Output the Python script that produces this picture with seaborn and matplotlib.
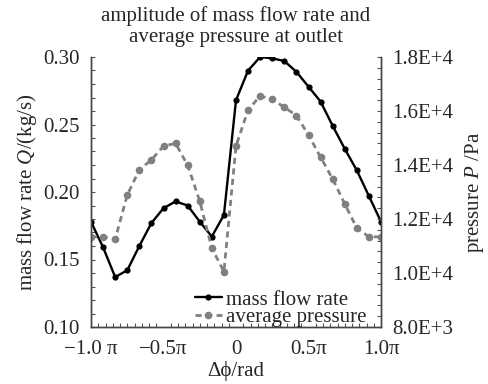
import numpy as np
import pandas as pd
import matplotlib
matplotlib.use("Agg")
import matplotlib.pyplot as plt
from matplotlib.ticker import MultipleLocator
import seaborn as sns

# ---- data (x in units of pi) ----
phase_pi = [-1.0, -11/12, -10/12, -9/12, -8/12, -7/12, -6/12, -5/12, -4/12, -3/12, -2/12, -1/12,
            0.0, 1/12, 2/12, 3/12, 4/12, 5/12, 6/12, 7/12, 8/12, 9/12, 10/12, 11/12, 1.0]
mass_flow = [0.178, 0.159, 0.137, 0.142, 0.160, 0.177, 0.188, 0.193, 0.190, 0.178, 0.167, 0.183,
             0.268, 0.290, 0.300, 0.299, 0.297, 0.289, 0.278, 0.267, 0.249, 0.232, 0.216, 0.197, 0.178]
pressure = [11340, 11340, 11250, 12890, 13820, 14190, 14700, 14800, 13990, 12660, 10920, 10050,
            14700, 16040, 16560, 16430, 16140, 15830, 15110, 14290, 13480, 12560, 11660, 11340, 11340]
x_ticks = [-1.0, -0.5, 0.0, 0.5, 1.0]
x_ticklabels = ["\u22121.0 \u03c0", "\u22120.5\u03c0", "0", "0.5\u03c0", "1.0\u03c0"]
q_ticks = [0.10, 0.15, 0.20, 0.25, 0.30]
p_ticks = [8000, 10000, 12000, 14000, 16000, 18000]
p_ticklabels = ["8.0E+3", "1.0E+4", "1.2E+4", "1.4E+4", "1.6E+4", "1.8E+4"]

df = pd.DataFrame({"phase": phase_pi, "Q": mass_flow, "P": pressure})

sns.set_style("ticks")
plt.rcParams["font.family"] = ["Liberation Serif", "DejaVu Serif"]
plt.rcParams["mathtext.fontset"] = "custom"
plt.rcParams["mathtext.rm"] = "Liberation Serif"
plt.rcParams["mathtext.it"] = "Liberation Serif:italic"
FS = 15

fig = plt.figure(figsize=(4.89, 3.84), dpi=100)
ax = fig.add_axes([91/489, 1-327/384, 290/489, 270/384])
ax2 = ax.twinx()

sns.lineplot(data=df, x="phase", y="Q", ax=ax, color="black", linewidth=1.7,
             marker="o", markersize=4.5, markeredgewidth=0, label="mass flow rate", legend=False)
sns.lineplot(data=df, x="phase", y="P", ax=ax2, color="#808080", linewidth=2.0,
             linestyle=(0, (2.2, 1.6)), marker="o", markersize=5.5, markeredgewidth=0,
             label="average pressure", legend=False)

ax.set_xlim(-1.0, 1.0)
ax.set_ylim(0.10, 0.30)
ax2.set_ylim(8000, 18000)

ax.set_xticks(x_ticks)
ax.set_xticklabels(x_ticklabels, fontsize=FS)
ax.xaxis.set_minor_locator(MultipleLocator(0.05))
ax.set_yticks(q_ticks)
ax.set_yticklabels([f"{v:.2f}" for v in q_ticks], fontsize=FS)
ax.yaxis.set_minor_locator(MultipleLocator(0.01))
ax2.set_yticks(p_ticks)
ax2.set_yticklabels(p_ticklabels, fontsize=FS)
ax2.yaxis.set_minor_locator(MultipleLocator(400))

for a in (ax, ax2):
    a.tick_params(which="both", direction="in", length=3, width=0.8, color="#555555", pad=8)
    a.spines["top"].set_visible(False)
    for s in a.spines.values():
        s.set_color("#444444")
        s.set_linewidth(1.0)
ax.tick_params(axis="x", which="major", length=0, pad=9)

ax.set_xlabel("\u0394\u03d5/rad", fontsize=FS, labelpad=2)
ax.set_ylabel("mass flow rate $\\it{Q}$/(kg/s)", fontsize=FS, labelpad=3)
ax2.set_ylabel("pressure $\\it{P}$ /Pa", fontsize=FS, labelpad=7)

fig.suptitle("amplitude of mass flow rate and\naverage pressure at outlet", fontsize=FS,
             x=236/489, y=0.985, linespacing=1.2)

h1, l1 = ax.get_legend_handles_labels()
h2, l2 = ax2.get_legend_handles_labels()
ax2.legend(h1 + h2, l1 + l2, loc="lower right", bbox_to_anchor=(1.0, -0.055), frameon=False,
           fontsize=FS, handlelength=1.3, handletextpad=0.2, labelspacing=-0.1, borderpad=0.2)

fig.savefig("out.png", dpi=100)
